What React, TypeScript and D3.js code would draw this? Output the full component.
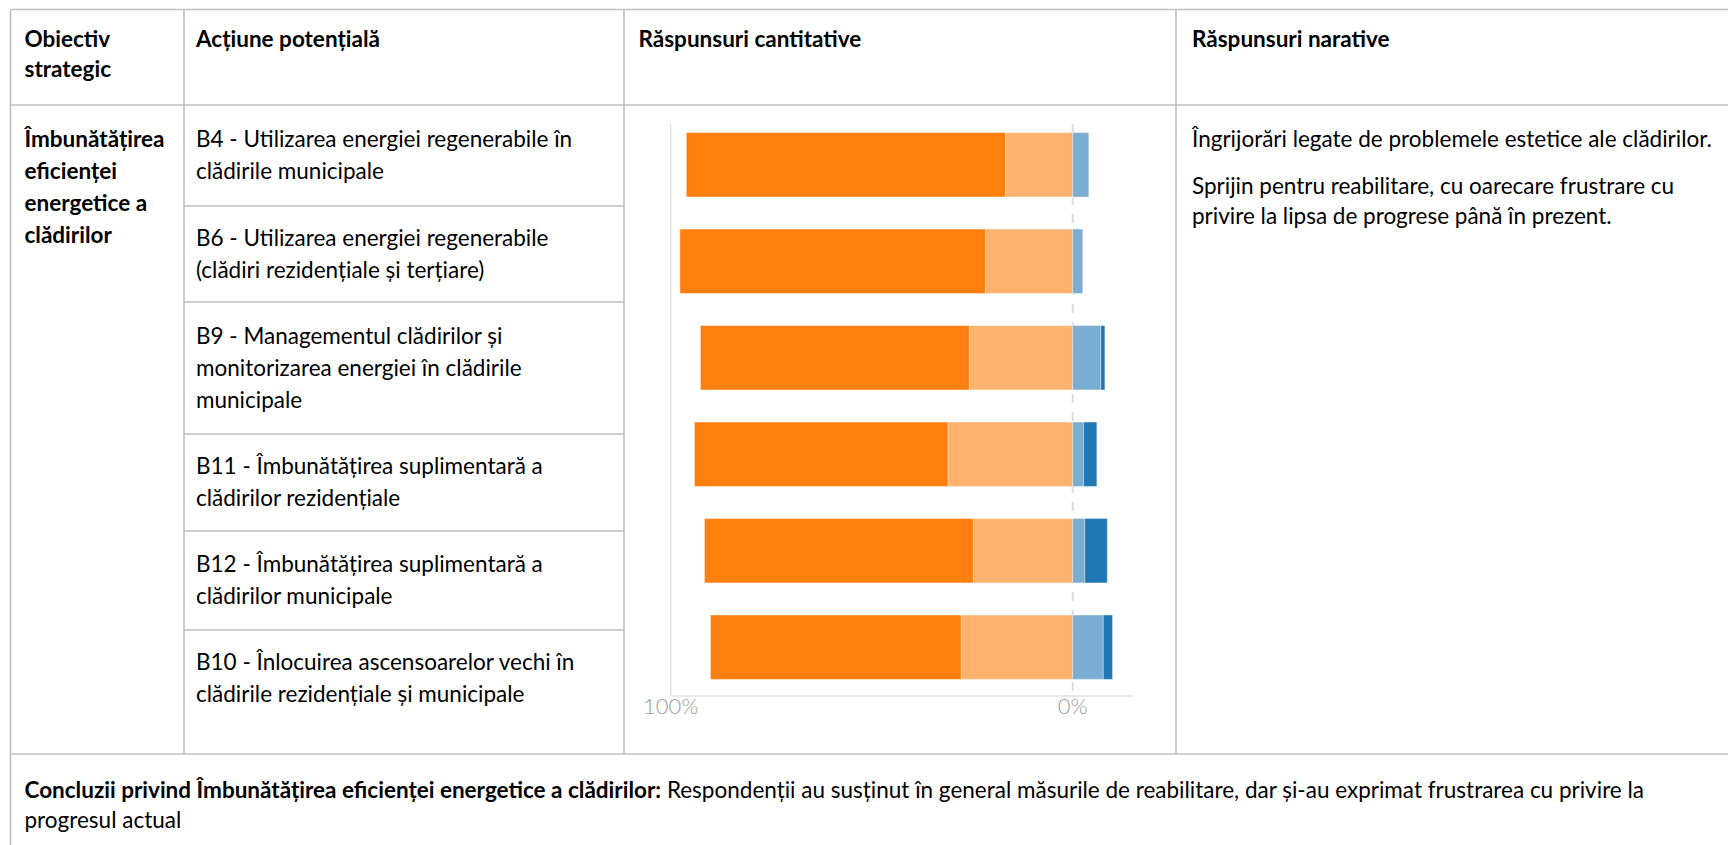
import React from "react";
import * as d3 from "d3";

// ---------- data ----------
const headerLabels: string[][] = [
  ["Obiectiv", "strategic"],
  ["Acțiune potențială"],
  ["Răspunsuri cantitative"],
  ["Răspunsuri narative"],
];
const objectiveLines = ["Îmbunătățirea", "eficienței", "energetice a", "clădirilor"];
const actionCodes = ["B4", "B6", "B9", "B11", "B12", "B10"];
const actionLines: string[][] = [
  ["B4 - Utilizarea energiei regenerabile în", "clădirile municipale"],
  ["B6 - Utilizarea energiei regenerabile", "(clădiri rezidențiale și terțiare)"],
  ["B9 - Managementul clădirilor și", "monitorizarea energiei în clădirile", "municipale"],
  ["B11 - Îmbunătățirea suplimentară a", "clădirilor rezidențiale"],
  ["B12 - Îmbunătățirea suplimentară a", "clădirilor municipale"],
  ["B10 - Înlocuirea ascensoarelor vechi în", "clădirile rezidențiale și municipale"],
];
// percentages, left of 0% (orange) and right of 0% (blue)
const leftDark = [79.4, 76.0, 66.9, 63.1, 66.9, 62.4];
const leftLight = [16.7, 21.7, 25.7, 31.0, 24.7, 27.7];
const rightLight = [4.0, 2.5, 7.0, 2.7, 3.0, 7.6];
const rightDark = [0, 0, 1.0, 3.3, 5.6, 2.3];
const axisTicks = [-100, 0];
const narrativeParagraphs: string[][] = [
  ["Îngrijorări legate de problemele estetice ale clădirilor."],
  ["Sprijin pentru reabilitare, cu oarecare frustrare cu", "privire la lipsa de progrese până în prezent."],
];
const conclusionBold = "Concluzii privind Îmbunătățirea eficienței energetice a clădirilor:";
const conclusionLines = [
  "Respondenții au susținut în general măsurile de reabilitare, dar și-au exprimat frustrarea cu privire la",
  "progresul actual",
];

// ---------- layout ----------
const W = 1728;
const H = 845;
const FONT = "Lato, Carlito, Calibri, 'Open Sans', sans-serif";
const FS = 22.5;
const BASE = FS * 0.34;
const LINE = "#bfbfbf";
const TXT = "#000";

const L = 10.5, T = 9.5, C1 = 184, C2 = 624, C3 = 1176, R = 1760;
const headerBottom = 105;
const mainBottom = 754;
const rowTops = [105, 206, 302, 434, 531, 630];
const firstLine = [139, 238, 336, 466, 564, 662];
const LH = 32;

const COLORS = {
  leftDark: "#ff7f0e",
  leftLight: "#ffb26e",
  rightLight: "#79add2",
  rightDark: "#1f77b4",
};

export default function App() {
  const x = d3.scaleLinear().domain([-100, 15]).range([670.7, 670.7 + 115 * 4.02]);
  const y = d3
    .scaleBand<string>()
    .domain(actionCodes)
    .range([116.5, 695.5])
    .paddingInner(0.333)
    .paddingOuter(0.167);

  const chartTop = 124;
  const chartBottom = 696;

  const segs: { key: string; x0: number; x1: number; y: number; h: number; c: string }[] = [];
  actionCodes.forEach((code, i) => {
    const yy = y(code)!;
    const bw = y.bandwidth();
    const l1 = -leftLight[i];
    const l0 = l1 - leftDark[i];
    const r1 = rightLight[i];
    const r2 = r1 + rightDark[i];
    segs.push({ key: code + "ld", x0: x(l0), x1: x(l1), y: yy, h: bw, c: COLORS.leftDark });
    segs.push({ key: code + "ll", x0: x(l1), x1: x(0), y: yy, h: bw, c: COLORS.leftLight });
    if (rightLight[i] > 0)
      segs.push({ key: code + "rl", x0: x(0), x1: x(r1), y: yy, h: bw, c: COLORS.rightLight });
    if (rightDark[i] > 0)
      segs.push({ key: code + "rd", x0: x(r1), x1: x(r2), y: yy, h: bw, c: COLORS.rightDark });
  });

  const textLines = (lines: string[], x0: number, y0: number, lh: number, bold = false, key = "") =>
    lines.map((ln, j) => (
      <text
        key={key + j}
        x={x0}
        y={y0 + j * lh + BASE}
        fontFamily={FONT}
        fontSize={FS}
        fontWeight={bold ? 700 : 400}
        fill={TXT}
      >
        {ln}
      </text>
    ));

  const colX = [L + 14, C1 + 12, C2 + 14.5, C3 + 16];

  return (
    <svg
      width={W}
      height={H}
      viewBox={`0 0 ${W} ${H}`}
      style={{ position: "absolute", left: 0, top: 0, background: "#fff" }}
    >
      <rect x={0} y={0} width={W} height={H} fill="#fff" />

      {/* table grid */}
      <g stroke={LINE} strokeWidth={1.6} fill="none">
        <line x1={L} x2={R} y1={T} y2={T} />
        <line x1={L} x2={R} y1={headerBottom} y2={headerBottom} />
        <line x1={L} x2={R} y1={mainBottom} y2={mainBottom} />
        <line x1={L} x2={L} y1={T} y2={H + 10} />
        <line x1={C1} x2={C1} y1={T} y2={mainBottom} />
        <line x1={C2} x2={C2} y1={T} y2={mainBottom} />
        <line x1={C3} x2={C3} y1={T} y2={mainBottom} />
        {rowTops.slice(1).map((ry, i) => (
          <line key={i} x1={C1} x2={C2} y1={ry} y2={ry} />
        ))}
      </g>

      {/* header */}
      {headerLabels.map((lines, i) => textLines(lines, colX[i], 39.5, 30, true, "h" + i))}

      {/* objective */}
      {textLines(objectiveLines, colX[0], firstLine[0], LH, true, "o")}

      {/* actions */}
      {actionLines.map((lines, i) => textLines(lines, colX[1], firstLine[i], LH, false, "a" + i))}

      {/* narrative */}
      {textLines(narrativeParagraphs[0], colX[3], firstLine[0], 30, false, "n0")}
      {textLines(narrativeParagraphs[1], colX[3], firstLine[0] + 47, 30.5, false, "n1")}

      {/* conclusion */}
      <text x={colX[0]} y={790 + BASE} fontFamily={FONT} fontSize={FS} fill={TXT}>
        <tspan fontWeight={700}>{conclusionBold}</tspan>
        <tspan> {conclusionLines[0]}</tspan>
      </text>
      <text x={colX[0]} y={820 + BASE} fontFamily={FONT} fontSize={FS} fill={TXT}>
        {conclusionLines[1]}
      </text>

      {/* chart */}
      <g>
        <line x1={x(-100)} x2={x(-100)} y1={chartTop} y2={chartBottom} stroke="#e2e2e2" strokeWidth={1.5} />
        <line
          x1={x(0)}
          x2={x(0)}
          y1={chartTop}
          y2={chartBottom}
          stroke="#dcdcdc"
          strokeWidth={2}
          strokeDasharray="9,9"
        />
        <line x1={x(-100)} x2={x(15)} y1={chartBottom} y2={chartBottom} stroke="#e2e2e2" strokeWidth={1.5} />
        {segs.map((s) => (
          <rect
            key={s.key}
            x={s.x0}
            y={s.y}
            width={Math.max(0, s.x1 - s.x0)}
            height={s.h}
            fill={s.c}
            stroke="#fff"
            strokeOpacity={0.35}
            strokeWidth={1}
          />
        ))}
        {axisTicks.map((t) => (
          <text
            key={t}
            x={x(t)}
            y={chartBottom + 18}
            textAnchor="middle"
            fontFamily="Lato, 'Open Sans', sans-serif"
            fontWeight={300}
            fontSize={22}
            fill="#9c9c9c"
          >
            {Math.abs(t) + "%"}
          </text>
        ))}
      </g>
    </svg>
  );
}
